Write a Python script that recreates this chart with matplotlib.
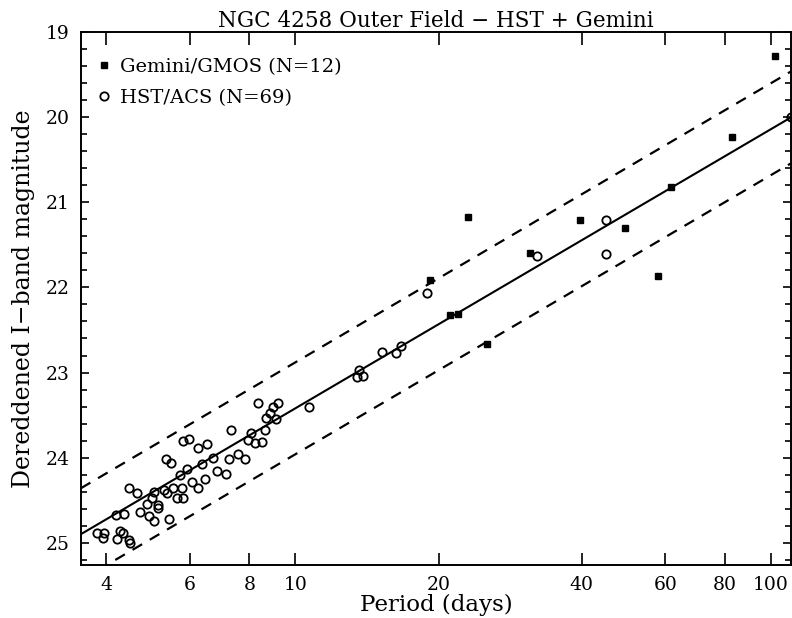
import numpy as np
import matplotlib
matplotlib.use("Agg")
import matplotlib.pyplot as plt
from matplotlib.ticker import FixedLocator, NullFormatter, MultipleLocator

plt.rcParams['font.family'] = ['DejaVu Serif']

# Gemini/GMOS cepheids (period in days, dereddened I mag)
gem_p = [101.8, 83.0, 61.6, 58.0, 49.4, 39.7, 31.2, 25.3, 23.1, 22.0, 21.1, 19.2]
gem_m = [19.28, 20.23, 20.82, 21.87, 21.30, 21.21, 21.60, 22.67, 21.17, 22.31, 22.32, 21.91]

# HST/ACS cepheids
hst_p = [3.82, 3.95, 3.93, 4.21, 4.28, 4.33, 4.46, 4.48, 4.19, 4.37,
         4.47, 4.64, 4.71, 4.87, 4.91, 5.03, 4.99, 5.13, 5.15, 5.41,
         5.35, 5.48, 5.30, 5.36, 5.52, 5.63, 5.81, 5.77, 5.72, 5.91,
         5.81, 5.96, 6.05, 6.25, 6.53, 6.25, 6.35, 6.46, 6.70, 6.83,
         7.15, 7.26, 7.32, 7.59, 7.84, 7.96, 8.07, 8.23, 8.50, 8.33,
         8.64, 8.68, 8.85, 8.96, 9.18, 9.11, 10.7, 13.6, 13.5, 13.9,
         15.2, 16.3, 16.7, 18.95, 32.2, 45.0, 45.0, 110.0, 5.05]
hst_m = [24.88, 24.89, 24.94, 24.96, 24.86, 24.88, 24.97, 25.00, 24.68, 24.66,
         24.36, 24.41, 24.64, 24.55, 24.69, 24.75, 24.47, 24.56, 24.59, 24.72,
         24.02, 24.06, 24.38, 24.41, 24.36, 24.48, 24.48, 24.36, 24.21, 24.13,
         23.80, 23.78, 24.29, 23.89, 23.84, 24.36, 24.07, 24.25, 24.00, 24.16,
         24.19, 24.02, 23.67, 23.96, 24.02, 23.79, 23.71, 23.83, 23.82, 23.36,
         23.67, 23.53, 23.48, 23.40, 23.36, 23.55, 23.41, 22.975, 23.05, 23.04,
         22.76, 22.77, 22.69, 22.06, 21.63, 21.21, 21.61, 20.00, 24.40]

# PL relation fit and scatter band
pl_zero = 26.70
pl_slope = -3.28
band = 0.54

xticks = [4, 6, 8, 10, 20, 40, 60, 80, 100]

fig = plt.figure(figsize=(7.92, 6.18), dpi=100)
ax = fig.add_axes([0.102, 0.086, 0.897, 0.862])

ax.set_xscale('log')
ax.set_xlim(3.537, 110.3)
ax.set_ylim(25.26, 19.0)

lp = np.linspace(np.log10(3.537), np.log10(110.3), 50)
fit = pl_zero + pl_slope * lp
ax.plot(10**lp, fit, color='black', lw=1.5)
ax.plot(10**lp, fit - band, color='black', lw=1.6, ls=(0, (5, 4)))
ax.plot(10**lp, fit + band, color='black', lw=1.6, ls=(0, (5, 4)))

ax.plot(gem_p, gem_m, 's', color='black', ms=5, label='Gemini/GMOS (N=12)')
ax.plot(hst_p, hst_m, 'o', mfc='none', mec='black', mew=1.3, ms=6,
        label='HST/ACS (N=69)')

ax.xaxis.set_major_locator(FixedLocator(xticks))
ax.xaxis.set_minor_locator(FixedLocator([]))
ax.set_xticklabels([str(t) for t in xticks])
ax.xaxis.set_minor_formatter(NullFormatter())
ax.yaxis.set_major_locator(MultipleLocator(1))
ax.yaxis.set_minor_locator(MultipleLocator(0.2))

ax.tick_params(which='both', direction='in', top=True, right=True, labelsize=13.5, width=1.2)
ax.tick_params(which='major', length=9, pad=8)
ax.tick_params(which='minor', length=4)
ax.tick_params(axis='y', which='major', length=6)
for s in ax.spines.values():
    s.set_linewidth(1.4)

ax.set_title('NGC 4258 Outer Field \u2212 HST + Gemini', fontsize=15.5, pad=4)
ax.set_xlabel('Period (days)', fontsize=16.5, labelpad=0)
ax.set_ylabel('Dereddened I\u2212band magnitude', fontsize=17, labelpad=8)

leg = ax.legend(loc='upper left', frameon=False, fontsize=14, handlelength=0.6,
                handletextpad=0.5, borderaxespad=0.5, labelspacing=0.7,
                bbox_to_anchor=(0.0, 0.985))

fig.savefig('out.png', dpi=100)
